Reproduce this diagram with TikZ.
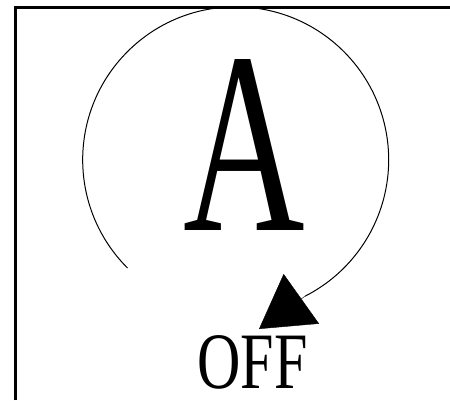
\documentclass[tikz,border=0pt]{standalone}
\usepackage{fontspec}
\setmainfont{Liberation Serif}
\usetikzlibrary{arrows.meta}

\begin{document}
\begin{tikzpicture}[x=1pt,y=1pt,
    bigletter/.style={inner sep=0pt,anchor=base,xscale=0.65,
      font=\fontsize{259}{260}\selectfont},
    offtext/.style={inner sep=0pt,anchor=base,xscale=0.75,
      font=\fontsize{80}{82}\selectfont},
    ring/.style={line width=1pt},
    pointer/.style={-{Triangle[length=52pt,width=61pt]}}]
  \useasboundingbox (0,0) rectangle (450,400);
  \draw[line width=2.5pt] (15.5,0) -- (15.5,392.5) -- (450,392.5);
  \node[bigletter] (A) at (244,170) {A};
  \node[offtext] (off) at (252.5,12) {OFF};
  \coordinate (start) at (127.5,132);
  \draw[ring] (start) arc[start angle=225,end angle=-63,radius=153] coordinate (arcend);
  \coordinate (tip) at (259,71);
  \draw[pointer] (arcend) -- (tip);
\end{tikzpicture}
\end{document}
